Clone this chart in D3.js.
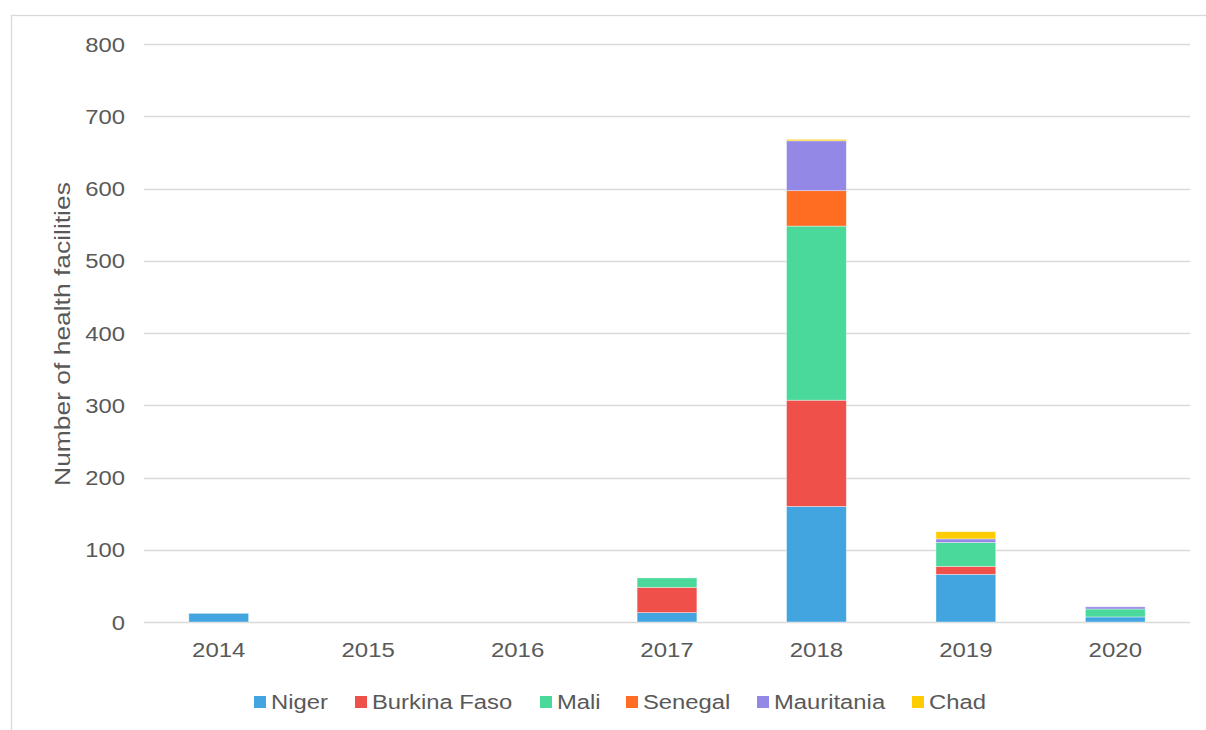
<!DOCTYPE html>
<html>
<head>
<meta charset="utf-8">
<script src="https://cdn.jsdelivr.net/npm/d3@7"></script>
<style>
  html, body { margin: 0; padding: 0; background: #fff; }
  svg text { font-family: "Liberation Sans", Arial, sans-serif; fill: #595959; }
</style>
</head>
<body>
<svg id="chart" width="1206" height="730"></svg>
<script>
// Years on the category axis
const years = ["2014", "2015", "2016", "2017", "2018", "2019", "2020"];

// Health facilities per country and year
const niger       = [12, 0, 0, 13, 160, 66, 7];
const burkinaFaso = [0, 0, 0, 35, 147, 11, 0];
const mali        = [0, 0, 0, 13, 241, 33, 11];
const senegal     = [0, 0, 0, 0, 49, 0, 0];
const mauritania  = [0, 0, 0, 0, 69, 5, 3];
const chad        = [0, 0, 0, 0, 2, 10, 0];

const countries = ["Niger", "Burkina Faso", "Mali", "Senegal", "Mauritania", "Chad"];
const seriesValues = [niger, burkinaFaso, mali, senegal, mauritania, chad];
const colors = ["#43a5e0", "#f0504a", "#4ad89b", "#ff6d22", "#9488e6", "#ffcc00"];

const yTicks = [0, 100, 200, 300, 400, 500, 600, 700, 800];

// Rows for d3.stack
const rows = years.map((y, i) => {
  const r = { year: y };
  countries.forEach((c, k) => { r[c] = seriesValues[k][i]; });
  return r;
});

const svg = d3.select("#chart");
const plot = { left: 144, right: 1190, top: 44, bottom: 622 };

// Widen glyphs horizontally to the chart's wide text style
function widen(sel, factor) {
  sel.each(function () {
    const len = this.getComputedTextLength();
    d3.select(this)
      .attr("textLength", len * factor)
      .attr("lengthAdjust", "spacingAndGlyphs");
  });
}

// Outer frame
svg.append("rect")
  .attr("x", 11.5).attr("y", 15.5)
  .attr("width", 1300).attr("height", 800)
  .attr("fill", "none").attr("stroke", "#d9d9d9").attr("stroke-width", 1.3);

const x = d3.scaleBand().domain(years).range([plot.left, plot.right]).padding(0);
const y = d3.scaleLinear().domain([0, 800]).range([plot.bottom, plot.top]);

// Gridlines
svg.append("g").selectAll("line")
  .data(yTicks)
  .join("line")
  .attr("x1", plot.left).attr("x2", plot.right)
  .attr("y1", d => Math.round(y(d)) + 0.5).attr("y2", d => Math.round(y(d)) + 0.5)
  .attr("stroke", "#d9d9d9").attr("stroke-width", 1.3);

// Y axis tick labels
const yAxis = d3.axisLeft(y).tickValues(yTicks).tickSize(0).tickPadding(0);
svg.append("g")
  .attr("transform", `translate(${plot.left - 19},0)`)
  .call(yAxis)
  .call(g => g.select(".domain").remove())
  .selectAll("text")
  .attr("font-size", "20px")
  .attr("dy", "0.36em")
  .style("fill", "#595959")
  .style("font-family", "Liberation Sans, Arial, sans-serif")
  .call(widen, 1.19);

// X axis tick labels
const xAxis = d3.axisBottom(x).tickSize(0).tickPadding(0);
svg.append("g")
  .attr("transform", `translate(0,${plot.bottom + 21})`)
  .call(xAxis)
  .call(g => g.select(".domain").remove())
  .selectAll("text")
  .attr("font-size", "20px")
  .attr("dy", "0.72em")
  .style("fill", "#595959")
  .style("font-family", "Liberation Sans, Arial, sans-serif")
  .call(widen, 1.2);

// Y axis title
svg.append("text")
  .attr("transform", `translate(70,334) rotate(-90)`)
  .attr("text-anchor", "middle")
  .attr("font-size", "22px")
  .text("Number of health facilities")
  .call(widen, 1.2);

// Stacked bars
const stack = d3.stack().keys(countries);
const layers = stack(rows);
const barW = x.bandwidth() * 0.4;

svg.append("g").selectAll("g")
  .data(layers)
  .join("g")
  .attr("fill", (d, i) => colors[i])
  .selectAll("rect")
  .data(d => d.filter(s => s[1] - s[0] > 0))
  .join("rect")
  .attr("x", d => x(d.data.year) + x.bandwidth() / 2 - barW / 2)
  .attr("width", barW)
  .attr("y", d => y(d[1]))
  .attr("height", d => y(d[0]) - y(d[1]))
  .attr("stroke", "rgba(255,255,255,0.5)")
  .attr("stroke-width", 0.75);

// Legend
const legendX = [254, 355, 540, 626, 757, 912];
const legend = svg.append("g").attr("transform", "translate(0,702)");
const items = legend.selectAll("g")
  .data(countries)
  .join("g")
  .attr("transform", (d, i) => `translate(${legendX[i]},0)`);
items.append("rect")
  .attr("x", 0).attr("y", -6).attr("width", 12).attr("height", 12)
  .attr("fill", (d, i) => colors[i]);
items.append("text")
  .attr("x", 17).attr("dy", "0.36em")
  .attr("font-size", "20px")
  .text(d => d)
  .call(widen, 1.19);
</script>
</body>
</html>
